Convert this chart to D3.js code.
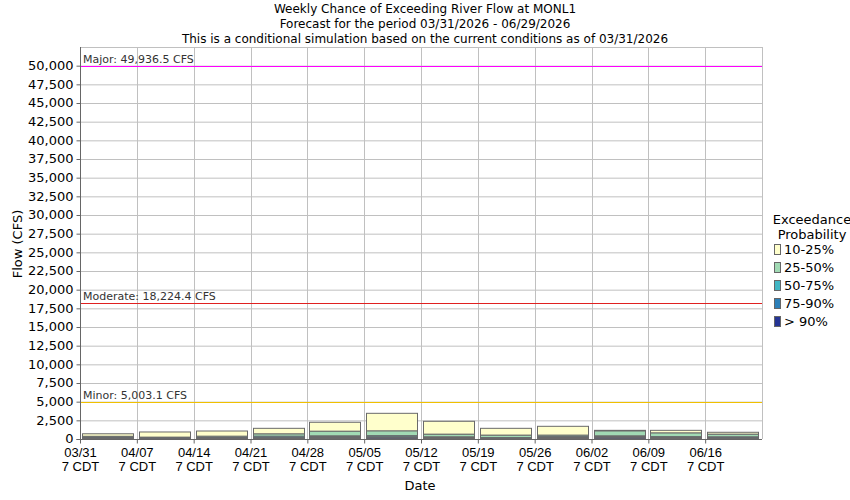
<!DOCTYPE html>
<html><head><meta charset="utf-8">
<script src="https://cdn.jsdelivr.net/npm/d3@7"></script>
<style>body{margin:0;background:#fff;} svg{font-family:"DejaVu Sans",sans-serif;}</style>
</head><body><svg id="c" width="850" height="500"></svg>
<script>
const titleLines = ["Weekly Chance of Exceeding River Flow at MONL1","Forecast for the period 03/31/2026 - 06/29/2026","This is a conditional simulation based on the current conditions as of 03/31/2026"];
const weeks = ["2026-03-31","2026-04-07","2026-04-14","2026-04-21","2026-04-28","2026-05-05","2026-05-12","2026-05-19","2026-05-26","2026-06-02","2026-06-09","2026-06-16"];
const tickLabels = ["03/31","04/07","04/14","04/21","04/28","05/05","05/12","05/19","05/26","06/02","06/09","06/16"];
const q10 = [700, 940, 1070, 1430, 2240, 3440, 2370, 1430, 1700, 1160, 1160, 900];
const q25 = [350, 230, 360, 670, 1030, 1070, 630, 500, 500, 1070, 800, 630];
const q50 = [200, 150, 200, 360, 400, 440, 270, 170, 310, 400, 310, 270];
const q75 = [150, 100, 150, 170, 270, 270, 200, 120, 200, 270, 200, 170];
const q90 = [80, 60, 80, 100, 130, 150, 120, 80, 120, 150, 120, 100];
const legendLabels = ["10-25%","25-50%","50-75%","75-90%","> 90%"];
const legendColors = ["#ffffcc","#a1dab4","#41b6c4","#2c7fb8","#253494"];
const thresholds = [
  {name:"Major", value:49936.5, color:"#ff00ff"},
  {name:"Moderate", value:18224.4, color:"#e02020"},
  {name:"Minor", value:5003.1, color:"#f0c000"}
];
const yTicks = d3.range(0, 50001, 2500);

const svg = d3.select("#c");
const L=80, R=762, T=47, B=439;
const parse = d3.timeParse("%Y-%m-%d");
const dates = weeks.map(parse);
const endDate = d3.timeDay.offset(dates[dates.length-1], 7);
const x = d3.scaleTime().domain([dates[0], endDate]).range([L, R]);
const y = d3.scaleLinear().domain([0, 52500]).range([B, T]);

// titles
svg.selectAll(".t").data(titleLines).join("text")
  .attr("x", 425).attr("y",(d,i)=>13+i*15).attr("text-anchor","middle")
  .attr("font-size",12).attr("fill","#000").text(d=>d);

// grid
const g = svg.append("g");
g.selectAll(".hg").data(yTicks).join("line")
  .attr("x1",L).attr("x2",R).attr("y1",d=>y(d)+0.5).attr("y2",d=>y(d)+0.5)
  .attr("stroke","#c0c0c0").attr("stroke-width",1);
g.selectAll(".vg").data(dates.concat([endDate])).join("line")
  .attr("x1",d=>Math.round(x(d))+0.5).attr("x2",d=>Math.round(x(d))+0.5).attr("y1",T).attr("y2",B)
  .attr("stroke","#c0c0c0").attr("stroke-width",1);
g.append("line").attr("x1",L).attr("x2",R).attr("y1",T+0.5).attr("y2",T+0.5).attr("stroke","#c0c0c0");

// bars
const layers = [
  {lo:q25, hi:q10, c:legendColors[0]},
  {lo:q50, hi:q25, c:legendColors[1]},
  {lo:q75, hi:q50, c:legendColors[2]},
  {lo:q90, hi:q75, c:legendColors[3]},
  {lo:q90.map(()=>0), hi:q90, c:legendColors[4]}
];
const step = x(dates[1]) - x(dates[0]);
layers.forEach(ly=>{
  svg.append("g").selectAll("rect").data(dates).join("rect")
    .attr("x",d=>Math.round(x(d))+2.5)
    .attr("width",Math.round(step)-6)
    .attr("y",(d,i)=>y(ly.hi[i]))
    .attr("height",(d,i)=>Math.max(0,y(ly.lo[i])-y(ly.hi[i])))
    .attr("fill",ly.c).attr("stroke","#6a6a6a").attr("stroke-width",1);
});

// thresholds
thresholds.forEach(t=>{
  svg.append("line").attr("x1",L).attr("x2",R).attr("y1",Math.round(y(t.value))+0.5).attr("y2",Math.round(y(t.value))+0.5)
    .attr("stroke",t.color).attr("stroke-width",1);
  svg.append("text").attr("x",L+3).attr("y",y(t.value)-3).attr("font-size",11).attr("fill","#333")
    .text(t.name+": "+d3.format(",.1f")(t.value)+" CFS");
});

// axes
const yAxis = d3.axisLeft(y).tickValues(yTicks).tickSize(4).tickFormat(d3.format(","));
const ya = svg.append("g").attr("transform",`translate(${L+0.5},0)`).call(yAxis);
ya.select(".domain").attr("stroke","#666").attr("d",`M-4,${B+0.5}H0V${T}`);
ya.selectAll(".tick line").attr("stroke","#666");
ya.selectAll("text").attr("font-size",13).attr("fill","#000").attr("font-family","DejaVu Sans").attr("dy","0.3em");

const xAxis = d3.axisBottom(x).tickValues(dates).tickSize(4).tickFormat("");
const xa = svg.append("g").attr("transform",`translate(0,${B+0.5})`).call(xAxis);
xa.select(".domain").attr("stroke","#666").attr("d",`M${L},0H${R}`);
xa.selectAll(".tick line").attr("stroke","#666");
xa.selectAll(".tick").each(function(d,i){
  const s = d3.select(this);
  s.append("text").attr("y",17).attr("text-anchor","middle").attr("font-size",13).attr("fill","#000").text(tickLabels[i]);
  s.append("text").attr("y",31).attr("text-anchor","middle").attr("font-size",13).attr("fill","#000").text("7 CDT");
});

// axis titles
svg.append("text").attr("x",420).attr("y",490).attr("text-anchor","middle").attr("font-size",13).text("Date");
svg.append("text").attr("transform","translate(22,244) rotate(-90)").attr("text-anchor","middle").attr("font-size",13).text("Flow (CFS)");

// legend
const lg = svg.append("g");
lg.append("text").attr("x",812).attr("y",224).attr("text-anchor","middle").attr("font-size",13).text("Exceedance");
lg.append("text").attr("x",812).attr("y",239).attr("text-anchor","middle").attr("font-size",13).text("Probability");
legendLabels.forEach((l,i)=>{
  const yy = 254 + i*18;
  lg.append("rect").attr("x",774.5).attr("y",yy-9.5).attr("width",6).attr("height",10).attr("fill",legendColors[i]).attr("stroke","#666");
  lg.append("text").attr("x",784).attr("y",yy).attr("font-size",13).text(l);
});
</script></body></html>
